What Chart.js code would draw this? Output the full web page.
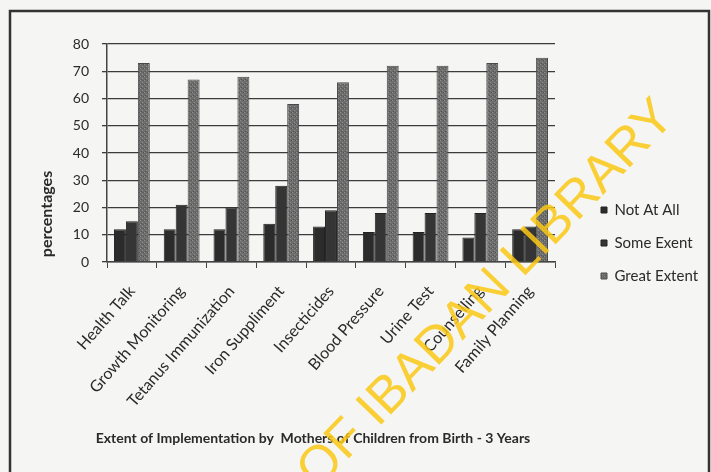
<!DOCTYPE html>
<html>
<head>
<meta charset="utf-8">
<script src="https://cdn.jsdelivr.net/npm/chart.js@4.4.1/dist/chart.umd.min.js"></script>
<style>
  html, body { margin: 0; padding: 0; background: #f5f5f3; }
  #wrap { width: 711px; height: 472px; position: relative; }
</style>
</head>
<body>
<div id="wrap"><canvas id="chart" width="711" height="472"></canvas></div>
<script>
// values
const categories = ["Health Talk", "Growth Monitoring", "Tetanus Immunization", "Iron Suppliment",
    "Insecticides", "Blood Pressure", "Urine Test", "Counselling", "Family Planning"];
const notAtAll = [12, 12, 12, 14, 13, 11, 11, 9, 12];
const someExtent = [15, 21, 20, 28, 19, 18, 18, 18, 13];
const greatExtent = [73, 67, 68, 58, 66, 72, 72, 73, 75];
const yMin = 0, yMax = 80, yStep = 10;

// speckled grey like the scanned bars
function speckle() {
    let c = document.createElement("canvas");
    c.width = 4; c.height = 4;
    let g = c.getContext("2d");
    g.fillStyle = "#6d6d6d";
    g.fillRect(0, 0, 4, 4);
    g.fillStyle = "#8e8e8e";
    g.fillRect(0, 0, 1, 1);
    g.fillRect(2, 2, 1, 1);
    g.fillStyle = "#555555";
    g.fillRect(3, 0, 1, 1);
    g.fillRect(1, 3, 1, 1);
    return g.createPattern(c, "repeat");
}

const extras = {
    id: "extras",
    afterDraw(chart) {
        let ctx = chart.ctx;
        ctx.save();
        // y axis title
        ctx.fillStyle = "#2a2a2a";
        ctx.font = "bold 16px Lato, 'Open Sans', sans-serif";
        ctx.translate(47, 214);
        ctx.rotate(-Math.PI / 2);
        ctx.textAlign = "center";
        ctx.textBaseline = "middle";
        ctx.fillText("percentages", 0, 0);
        ctx.restore();

        // bottom title
        ctx.save();
        ctx.fillStyle = "#2a2a2a";
        ctx.font = "bold 14px Lato, 'Open Sans', sans-serif";
        ctx.textAlign = "center";
        ctx.textBaseline = "middle";
        ctx.fillText("Extent of Implementation by  Mothers of Children from Birth - 3 Years", 313, 438);
        ctx.restore();

        // frame of the scanned page
        ctx.save();
        ctx.strokeStyle = "#333";
        ctx.lineWidth = 2.5;
        ctx.beginPath();
        ctx.moveTo(10, 472);
        ctx.lineTo(10, 11);
        ctx.lineTo(709, 11);
        ctx.lineTo(709, 472);
        ctx.stroke();
        ctx.restore();

        // library watermark
        ctx.save();
        ctx.fillStyle = "rgba(250, 200, 20, 0.85)";
        ctx.font = "52px 'Liberation Sans', sans-serif";
        ctx.translate(378, 428);
        ctx.rotate(-46 * Math.PI / 180);
        ctx.textBaseline = "alphabetic";
        let w = ctx.measureText("OF ").width;
        ctx.fillText("OF IBADAN LIBRARY", -w, 0);
        ctx.restore();
    }
};

let ctx = document.getElementById("chart").getContext("2d");
let chart = new Chart(ctx, {
    type: "bar",
    data: {
        labels: categories,
        datasets: [
            {
                label: "Not At All",
                data: notAtAll,
                backgroundColor: "#2b2b2b",
                borderColor: "#222",
                borderWidth: 1
            },
            {
                label: "Some Exent",
                data: someExtent,
                backgroundColor: "#353535",
                borderColor: "#222",
                borderWidth: 1
            },
            {
                label: "Great Extent",
                data: greatExtent,
                backgroundColor: speckle(),
                borderColor: "#4a4a4a",
                borderWidth: 1
            }
        ]
    },
    options: {
        responsive: false,
        animation: false,
        categoryPercentage: 0.72,
        barPercentage: 1.0,
        layout: { padding: { left: 10, top: 44, right: 10, bottom: 30 } },
        plugins: {
            tooltip: { enabled: false },
            legend: {
                position: "right",
                maxWidth: 118,
                labels: {
                    boxWidth: 6,
                    boxHeight: 6,
                    padding: 18,
                    color: "#2a2a2a",
                    font: { size: 15, family: "Lato, 'Open Sans', sans-serif" }
                }
            }
        },
        scales: {
            x: {
                afterFit: (s) => { s.height = 180; },
                grid: { display: true, drawOnChartArea: false, tickLength: 6, color: "#444", offset: true },
                border: { color: "#444", width: 1.5 },
                ticks: {
                    autoSkip: false,
                    maxRotation: 49,
                    minRotation: 49,
                    padding: 14,
                    color: "#2a2a2a",
                    font: { size: 16, family: "Lato, 'Open Sans', sans-serif" }
                }
            },
            y: {
                min: yMin,
                max: yMax,
                afterFit: (s) => { s.width = 97; },
                grid: { color: "#3c3c3c", lineWidth: 1.3, tickLength: 5 },
                border: { color: "#444", width: 1.5 },
                ticks: {
                    stepSize: yStep,
                    padding: 13,
                    color: "#2a2a2a",
                    font: { size: 14, family: "Lato, 'Open Sans', sans-serif" }
                }
            },
            spacer: {
                type: "linear",
                position: "right",
                afterFit: (s) => { s.width = 28; },
                grid: { display: false },
                border: { display: false },
                ticks: { display: false }
            }
        }
    },
    plugins: [extras]
});
</script>
</body>
</html>
